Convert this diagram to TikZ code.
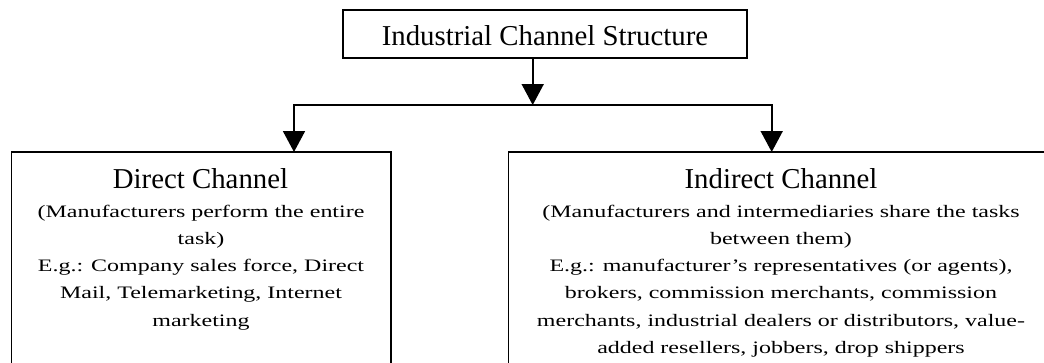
\documentclass[tikz,border=0pt]{standalone}
\usepackage{fontspec}
\setmainfont{Liberation Serif}
\newfontfamily\bodyfont[FakeStretch=1.37]{Liberation Serif}
\usetikzlibrary{arrows.meta}
\begin{document}
\begin{tikzpicture}[x=1pt,y=-1pt,
  box/.style={draw, line width=1.8pt, inner sep=0pt, outer sep=0pt},
  conn/.style={line width=1.8pt},
  arr/.style={conn, -{Triangle[width=22pt,length=21pt]}},
  headfont/.style={font=\fontsize{28.8}{33}\selectfont},
  head/.style={headfont, inner sep=0pt, anchor=base},
  body/.style={font=\bodyfont\fontsize{17.5}{27.2}\selectfont, inner sep=0pt, anchor=north, align=center}]
\useasboundingbox (0,0) rectangle (1044,362);
\clip (0,0) rectangle (1044,362);
\fill[white] (0,0) rectangle (1044,362);
% boxes
\node[box, headfont, minimum width=404pt, minimum height=48pt, text height=22.4pt, text depth=0pt] (top) at (545,33.8) {Industrial Channel Structure};
\node[box, minimum width=379.2pt, minimum height=268pt] (lbox) at (201.1,286) {};
\node[box, minimum width=544.5pt, minimum height=268pt] (rbox) at (780.75,286) {};
% headings
\node[head] (lhead) at (200.5,188) {Direct Channel};
\node[head] (rhead) at (781,188) {Indirect Channel};
% bodies
\node[body] (lbody) at (201,197.96) {\strut(Manufacturers perform the entire\\task)\\E.g.: Company sales force, Direct\\Mail, Telemarketing, Internet\\marketing};
\node[body] (rbody) at (781,197.96) {\strut(Manufacturers and intermediaries share the tasks\\between them)\\E.g.: manufacturer’s representatives (or agents),\\brokers, commission merchants, commission\\merchants, industrial dealers or distributors, value-\\added resellers, jobbers, drop shippers};
% connectors
\coordinate (j) at (532.7,105);
\coordinate (jl) at (294,105);
\coordinate (jr) at (771.7,105);
\draw[arr] (top.south -| j) -- (j);
\draw[conn, line cap=rect] (jl) -- (jr);
\draw[arr] (jl) -- (jl |- lbox.north);
\draw[arr] (jr) -- (jr |- rbox.north);
\end{tikzpicture}
\end{document}
